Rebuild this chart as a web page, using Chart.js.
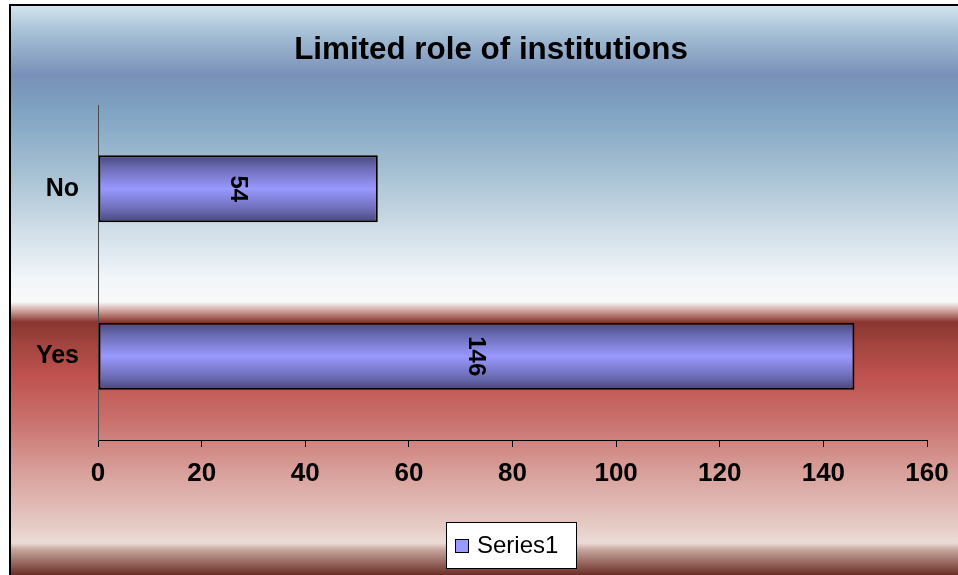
<!DOCTYPE html>
<html>
<head>
<meta charset="utf-8">
<script src="https://cdn.jsdelivr.net/npm/chart.js@4/dist/chart.umd.min.js"></script>
<style>
  html, body { margin: 0; padding: 0; background: #ffffff; }
  #wrap { width: 958px; height: 575px; position: relative; }
</style>
</head>
<body>
<div id="wrap"><canvas id="chart" width="958" height="575"></canvas></div>
<script>
// Survey answers
const categories = ['No', 'Yes'];
const seriesName = 'Series1';
const seriesValues = [54, 146];
const xTicks = [0, 20, 40, 60, 80, 100, 120, 140, 160];
const chartTitle = 'Limited role of institutions';

const FONT = '"Liberation Sans", Arial, Helvetica, sans-serif';
const BAR_PCT = 0.4;

// Panel background: blue sky fading to white, then a red band below
const panelBackground = {
  id: 'panelBackground',
  beforeDraw(chart) {
    const ctx = chart.ctx;
    const W = chart.width, H = chart.height;
    ctx.save();
    ctx.fillStyle = '#ffffff';
    ctx.fillRect(0, 0, W, H);
    const top = 5, left = 10;
    const g = ctx.createLinearGradient(0, top, 0, H);
    const stops = [
      [6, '#d4e4f0'], [30, '#a9c3d8'], [75, '#7890b8'], [110, '#7fa3c2'],
      [170, '#a4bfd2'], [230, '#d0dee8'], [280, '#f2f6f9'], [302, '#f8f8f8'],
      [312, '#c89890'], [322, '#8a352f'], [345, '#a24540'], [375, '#bf514e'],
      [420, '#c9706c'], [470, '#d89e99'], [520, '#e4c6c0'], [543, '#ecdcd6'],
      [550, '#c4a49c'], [575, '#6a2e26']
    ];
    stops.forEach(([y, c]) => g.addColorStop(Math.min(1, Math.max(0, (y - top) / (H - top))), c));
    ctx.fillStyle = g;
    ctx.fillRect(left, top, W - left, H - top);
    ctx.strokeStyle = '#000000';
    ctx.lineWidth = 2;
    ctx.beginPath();
    ctx.moveTo(left, H);
    ctx.lineTo(left, top);
    ctx.lineTo(W, top);
    ctx.stroke();
    ctx.restore();
  },
  afterDraw(chart) {
    const ctx = chart.ctx;
    ctx.save();
    // Title
    ctx.fillStyle = '#000000';
    ctx.font = 'bold 32px ' + FONT;
    ctx.textAlign = 'center';
    ctx.textBaseline = 'alphabetic';
    ctx.save();
    ctx.translate(491, 59);
    ctx.scale(0.98, 1);
    ctx.fillText(chartTitle, 0, 0);
    ctx.restore();

    // Legend box
    const bx = 446.5, by = 522.5, bw = 130, bh = 46;
    ctx.fillStyle = '#ffffff';
    ctx.fillRect(bx, by, bw, bh);
    ctx.strokeStyle = '#000000';
    ctx.lineWidth = 1;
    ctx.strokeRect(bx, by, bw, bh);
    ctx.fillStyle = '#9999ff';
    ctx.fillRect(455.5, 539.5, 13, 13);
    ctx.strokeRect(455.5, 539.5, 13, 13);
    ctx.fillStyle = '#000000';
    ctx.font = '24px ' + FONT;
    ctx.textAlign = 'left';
    ctx.textBaseline = 'middle';
    ctx.fillText(seriesName, 477, 546);
    ctx.restore();
  }
};

// Value labels, turned a quarter clockwise, centred in each bar
const barValueLabels = {
  id: 'barValueLabels',
  afterDatasetsDraw(chart) {
    const ctx = chart.ctx;
    const meta = chart.getDatasetMeta(0);
    ctx.save();
    ctx.fillStyle = '#000000';
    ctx.font = 'bold 24px ' + FONT;
    ctx.textAlign = 'center';
    ctx.textBaseline = 'middle';
    meta.data.forEach((el, i) => {
      const cx = (el.x + el.base) / 2;
      const cy = el.y;
      ctx.save();
      ctx.translate(cx, cy);
      ctx.rotate(Math.PI / 2);
      ctx.fillText(String(seriesValues[i]), 0, 1);
      ctx.restore();
    });
    ctx.restore();
  }
};

function barGradient(context) {
  const chart = context.chart;
  const ys = chart.scales && chart.scales.y;
  if (!ys || context.dataIndex == null || !isFinite(ys.height)) return '#9999ff';
  const c = ys.getPixelForValue(context.dataIndex);
  const h = (ys.height / categories.length) * BAR_PCT;
  const g = chart.ctx.createLinearGradient(0, c - h / 2, 0, c + h / 2);
  g.addColorStop(0, '#46467c');
  g.addColorStop(0.18, '#6a6ab2');
  g.addColorStop(0.5, '#9999ff');
  g.addColorStop(0.82, '#6a6ab2');
  g.addColorStop(1, '#46467c');
  return g;
}

new Chart(document.getElementById('chart'), {
  type: 'bar',
  data: {
    labels: categories,
    datasets: [{
      label: seriesName,
      data: seriesValues,
      backgroundColor: barGradient,
      borderColor: '#000000',
      borderWidth: 2,
      borderSkipped: false,
      categoryPercentage: 1,
      barPercentage: BAR_PCT
    }]
  },
  options: {
    indexAxis: 'y',
    responsive: false,
    animation: false,
    events: [],
    layout: { padding: { left: 0, right: 31, top: 105, bottom: 75 } },
    plugins: {
      legend: { display: false },
      title: { display: false },
      tooltip: { enabled: false }
    },
    scales: {
      x: {
        type: 'linear',
        min: 0,
        max: 160,
        afterBuildTicks(scale) { scale.ticks = xTicks.map(v => ({ value: v })); },
        afterFit(scale) {
          scale.height = 60;
          scale.paddingLeft = 0;
          scale.paddingRight = 0;
        },
        grid: {
          drawOnChartArea: false,
          drawTicks: true,
          tickLength: 7,
          color: '#000000',
          lineWidth: 1
        },
        border: { display: true, color: '#000000', width: 1 },
        ticks: {
          color: '#000000',
          font: { family: FONT, size: 26, weight: 'bold' },
          padding: 11,
          maxRotation: 0
        }
      },
      y: {
        type: 'category',
        afterFit(scale) { scale.width = 98; },
        grid: { display: false, drawTicks: false },
        border: { display: true, color: '#4a4a4a', width: 1 },
        ticks: {
          color: '#000000',
          font: { family: FONT, size: 25, weight: 'bold' },
          padding: 19
        }
      }
    }
  },
  plugins: [panelBackground, barValueLabels]
});
</script>
</body>
</html>
